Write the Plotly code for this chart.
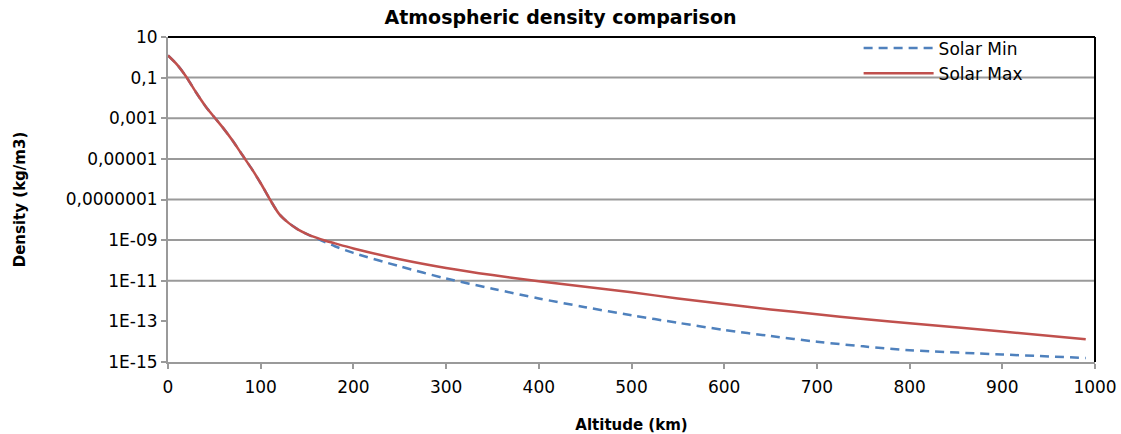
import plotly.graph_objects as go

# ---- data ----
altitude_km = [0, 10, 20, 30, 40, 50, 60, 70, 80, 90, 100, 110, 120, 130, 140, 150,
               160, 170, 180, 200, 250, 300, 350, 400, 450, 500, 550, 600, 650, 700,
               750, 800, 900, 990]

log_density_min = [0.09, -0.37, -0.98, -1.71, -2.38, -2.95, -3.51, -4.12, -4.80, -5.47,
                   -6.20, -7.00, -7.72, -8.15, -8.47, -8.71,
                   -8.91, -9.11, -9.30, -9.63, -10.29, -10.89, -11.39, -11.87, -12.30,
                   -12.70, -13.07, -13.42, -13.72, -14.00, -14.23, -14.42, -14.63, -14.80]

log_density_max = [0.09, -0.37, -0.98, -1.71, -2.38, -2.95, -3.51, -4.12, -4.80, -5.47,
                   -6.20, -7.00, -7.72, -8.15, -8.47, -8.70,
                   -8.88, -9.03, -9.16, -9.41, -9.94, -10.37, -10.72, -11.02, -11.29,
                   -11.57, -11.87, -12.15, -12.41, -12.65, -12.88, -13.09, -13.50, -13.88]

density_min = [10 ** v for v in log_density_min]
density_max = [10 ** v for v in log_density_max]

y_tick_vals = [10, 1e-1, 1e-3, 1e-5, 1e-7, 1e-9, 1e-11, 1e-13, 1e-15]
y_tick_text = ["10", "0,1", "0,001", "0,00001", "0,0000001", "1E-09", "1E-11", "1E-13", "1E-15"]
grid_vals = [1e-1, 1e-3, 1e-5, 1e-7, 1e-9, 1e-11]
x_tick_vals = list(range(0, 1001, 100))

FONT = "'DejaVu Sans', sans-serif"
BLUE = "#4F81BD"
RED = "#C0504D"
GRID = "#9A9A9A"

fig = go.Figure()
fig.add_trace(go.Scatter(x=altitude_km, y=density_min, name="Solar Min", mode="lines",
                         line=dict(color=BLUE, width=2.5, dash="9px,6px", shape="spline", smoothing=0.8)))
fig.add_trace(go.Scatter(x=altitude_km, y=density_max, name="Solar Max", mode="lines",
                         line=dict(color=RED, width=2.5, shape="spline", smoothing=0.8)))

shapes = []
for g in grid_vals:
    shapes.append(dict(type="line", xref="paper", x0=0, x1=1, yref="y", y0=g, y1=g,
                       line=dict(color=GRID, width=2), layer="below"))
# top and right frame (black)
shapes.append(dict(type="line", xref="paper", yref="paper", x0=0, x1=1, y0=1, y1=1,
                   line=dict(color="black", width=2)))
shapes.append(dict(type="line", xref="paper", yref="paper", x0=1, x1=1, y0=0, y1=1,
                   line=dict(color="black", width=2)))

fig.update_layout(
    width=1121, height=434,
    margin=dict(l=168, r=26, t=37, b=72),
    paper_bgcolor="white", plot_bgcolor="white",
    font=dict(family=FONT, size=17, color="black"),
    title=dict(text="<b>Atmospheric density comparison</b>", x=0.5, xref="container",
               xanchor="center", y=0.96, yref="container", yanchor="middle",
               font=dict(family=FONT, size=19, color="black")),
    showlegend=True,
    legend=dict(x=0.745, y=1.02, xanchor="left", yanchor="top", bgcolor="rgba(0,0,0,0)",
                font=dict(family=FONT, size=17), itemwidth=70),
    shapes=shapes,
    xaxis=dict(range=[0, 1000], tickvals=x_tick_vals, showgrid=False, zeroline=False,
               showline=True, linecolor=GRID, linewidth=2, ticks="outside", ticklen=5,
               tickcolor=GRID, tickwidth=2, ticklabelstandoff=4, automargin=False,
               title=dict(text="<b>Altitude (km)</b>", font=dict(size=15), standoff=26)),
    yaxis=dict(type="log", range=[-15, 1], tickvals=y_tick_vals, ticktext=y_tick_text,
               showgrid=False, zeroline=False, showline=True, linecolor=GRID, linewidth=2,
               ticks="outside", ticklen=5, tickcolor=GRID, tickwidth=2, automargin=False,
               title=dict(text="<b>Density (kg/m3)</b>", font=dict(size=15), standoff=36)),
)

fig.write_html("out.html")
